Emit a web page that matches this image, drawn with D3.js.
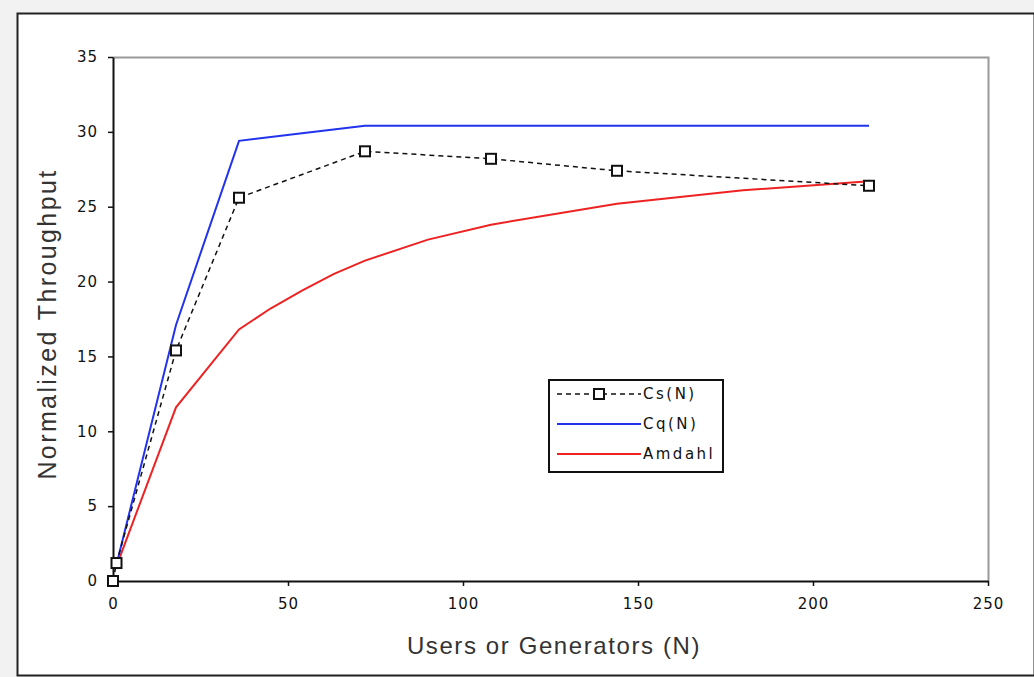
<!DOCTYPE html>
<html>
<head>
<meta charset="utf-8">
<script src="https://cdn.jsdelivr.net/npm/d3@7"></script>
<style>
  body { margin: 0; background: #f2f2f2; }
  svg { display: block; }
</style>
</head>
<body>
<div id="chart"></div>
<script>
// values
var csN    = [0, 1, 18, 36, 72, 108, 144, 216];
var csVal  = [0, 1.2, 15.4, 25.6, 28.7, 28.2, 27.4, 26.4];

var cqN    = [1, 18, 36, 54, 72, 108, 144, 180, 216];
var cqVal  = [1.1, 17.1, 29.4, 29.9, 30.4, 30.4, 30.4, 30.4, 30.4];

var amN    = [1, 18, 36, 45, 54, 63, 72, 90, 108, 144, 180, 216];
var amVal  = [1, 11.6, 16.8, 18.2, 19.4, 20.5, 21.4, 22.8, 23.8, 25.2, 26.1, 26.7];

var xTicks = [0, 50, 100, 150, 200, 250];
var yTicks = [0, 5, 10, 15, 20, 25, 30, 35];

var W = 1034, H = 677;
var margin = {left: 113, top: 57, right: W - 988, bottom: H - 581};
var width = W - margin.left - margin.right,
    height = H - margin.top - margin.bottom;

var svg = d3.select("#chart").append("svg")
    .attr("width", W)
    .attr("height", H);

// white frame of the figure
svg.append("rect")
    .attr("x", 17.5).attr("y", 13.5)
    .attr("width", W - 17).attr("height", 662)
    .attr("fill", "#fff")
    .attr("stroke", "#222")
    .attr("stroke-width", 2);

var g = svg.append("g")
    .attr("transform", "translate(" + margin.left + "," + margin.top + ")");

var x = d3.scaleLinear().domain([0, 250]).range([0, width]);
var y = d3.scaleLinear().domain([0, 35]).range([height, 0]);

// gray plot border (top and right)
g.append("path")
    .attr("d", "M0,0.5H" + (width + 0.5) + "V" + height)
    .attr("fill", "none")
    .attr("stroke", "#9a9a9a")
    .attr("stroke-width", 2);

var tickFont = "'DejaVu Sans', Verdana, sans-serif";
var titleFont = "'Liberation Sans', Arial, sans-serif";

var xAxis = d3.axisBottom(x).tickValues(xTicks).tickSize(5).tickSizeOuter(0);
var yAxis = d3.axisLeft(y).tickValues(yTicks).tickSize(5).tickSizeOuter(0);

var gx = g.append("g")
    .attr("transform", "translate(0," + height + ")")
    .call(xAxis);
var gy = g.append("g").call(yAxis);

[gx, gy].forEach(function(a) {
  a.select(".domain").attr("stroke", "#111").attr("stroke-width", 2);
  a.selectAll(".tick line").attr("stroke", "#111").attr("stroke-width", 1.5);
  a.selectAll(".tick text")
    .attr("fill", "#111")
    .style("font-family", tickFont)
    .style("font-size", "15px")
    .style("letter-spacing", "1px");
});
gx.selectAll(".tick text").attr("y", 17);
gy.selectAll(".tick text").attr("x", -15);

// axis titles
svg.append("text")
    .attr("x", 554)
    .attr("y", 654)
    .attr("text-anchor", "middle")
    .style("font-family", titleFont)
    .style("font-size", "24px")
    .style("letter-spacing", "1.6px")
    .attr("fill", "#333")
    .text("Users or Generators (N)");

svg.append("text")
    .attr("transform", "translate(56,324) rotate(-90)")
    .attr("text-anchor", "middle")
    .style("font-family", titleFont)
    .style("font-size", "25px")
    .style("letter-spacing", "2.4px")
    .attr("fill", "#333")
    .text("Normalized Throughput");

var line = d3.line()
    .x(function(d) { return x(d[0]); })
    .y(function(d) { return y(d[1]); });

var amData = d3.zip(amN, amVal);
var cqData = d3.zip(cqN, cqVal);
var csData = d3.zip(csN, csVal);

g.append("path")
    .datum(amData)
    .attr("d", line)
    .attr("fill", "none")
    .attr("stroke", "#ee2222")
    .attr("stroke-width", 2);

g.append("path")
    .datum(cqData)
    .attr("d", line)
    .attr("fill", "none")
    .attr("stroke", "#2233ee")
    .attr("stroke-width", 2);

g.append("path")
    .datum(csData)
    .attr("d", line)
    .attr("fill", "none")
    .attr("stroke", "#111")
    .attr("stroke-width", 1.5)
    .attr("stroke-dasharray", "5,4");

g.selectAll(".cs-pt")
    .data(csData)
  .enter().append("rect")
    .attr("class", "cs-pt")
    .attr("x", function(d) { return x(d[0]) - 5; })
    .attr("y", function(d) { return y(d[1]) - 5; })
    .attr("width", 10)
    .attr("height", 10)
    .attr("fill", "#fff")
    .attr("stroke", "#111")
    .attr("stroke-width", 2);

// legend
var legend = svg.append("g").attr("transform", "translate(549,380)");
legend.append("rect")
    .attr("width", 174).attr("height", 92)
    .attr("fill", "#fff")
    .attr("stroke", "#111")
    .attr("stroke-width", 2);

var legendItems = [
  {name: "Cs(N)", color: "#111", dash: "5,4", marker: true},
  {name: "Cq(N)", color: "#2233ee", dash: null, marker: false},
  {name: "Amdahl", color: "#ee2222", dash: null, marker: false}
];

var li = legend.selectAll(".li")
    .data(legendItems)
  .enter().append("g")
    .attr("transform", function(d, i) { return "translate(0," + (14 + i * 30) + ")"; });

li.append("line")
    .attr("x1", 8).attr("x2", 92)
    .attr("stroke", function(d) { return d.color; })
    .attr("stroke-width", function(d) { return d.marker ? 1.5 : 2; })
    .attr("stroke-dasharray", function(d) { return d.dash; });

li.filter(function(d) { return d.marker; })
  .append("rect")
    .attr("x", 45).attr("y", -5)
    .attr("width", 10).attr("height", 10)
    .attr("fill", "#fff")
    .attr("stroke", "#111")
    .attr("stroke-width", 2);

li.append("text")
    .attr("x", 94)
    .attr("dy", "0.36em")
    .style("font-family", tickFont)
    .style("font-size", "15px")
    .style("letter-spacing", "2.5px")
    .attr("fill", "#111")
    .text(function(d) { return d.name; });
</script>
</body>
</html>
